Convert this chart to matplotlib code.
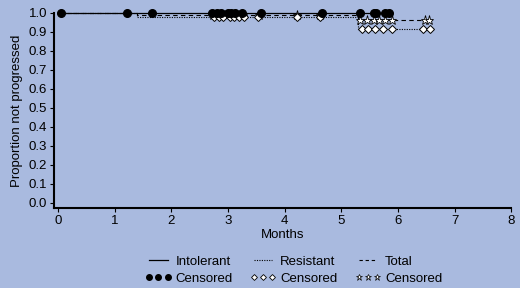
import matplotlib.pyplot as plt
from matplotlib.lines import Line2D

# step curves (time, proportion)
intol_t = [0.0, 5.85]
intol_s = [1.0, 1.0]
resist_t = [0.0, 1.39, 5.3, 6.57]
resist_s = [1.0, 0.98, 0.917, 0.917]
total_t = [0.0, 1.39, 5.3, 6.55]
total_s = [1.0, 0.99, 0.963, 0.963]

# censored observations
intol_cens_t = [0.05, 1.22, 1.66, 2.72, 2.8, 2.88, 3.0, 3.06, 3.13, 3.25, 3.58,
                4.66, 5.34, 5.57, 5.62, 5.78, 5.84]
resist_cens_t = [2.76, 2.84, 2.92, 3.03, 3.11, 3.19, 3.28, 3.53, 4.22, 4.63,
                 5.37, 5.48, 5.6, 5.74, 5.9, 6.45, 6.57]
total_cens_t = [2.74, 2.86, 2.96, 3.06, 3.16, 3.26, 3.55, 4.22, 4.63,
                5.34, 5.45, 5.57, 5.66, 5.78, 5.9, 6.48, 6.55]

x_ticks = list(range(0, 9))
y_ticks = [i / 10 for i in range(0, 11)]

bg = "#a9badf"
plt.rcParams["font.family"] = ["Liberation Sans", "DejaVu Sans"]
fs = 9.5


def surv_at(ts, ss, t):
    val = ss[0]
    for ti, si in zip(ts, ss):
        if t >= ti:
            val = si
    return val


fig = plt.figure(figsize=(5.2, 2.88), dpi=100, facecolor=bg)
ax = fig.add_axes([0.104, 0.278, 0.879, 0.677], facecolor=bg)

ax.step(resist_t, resist_s, where="post", color="black", lw=0.8, ls=(0, (1, 1.2)), clip_on=False)
ax.step(total_t, total_s, where="post", color="black", lw=0.8, ls=(0, (4, 3)), clip_on=False)
ax.step(intol_t, intol_s, where="post", color="black", lw=0.9, clip_on=False)

ax.plot(total_cens_t, [surv_at(total_t, total_s, t) for t in total_cens_t],
        ls="none", marker="*", ms=6.5, mfc="white", mec="black", mew=0.6, clip_on=False)
ax.plot(resist_cens_t, [surv_at(resist_t, resist_s, t) for t in resist_cens_t],
        ls="none", marker="D", ms=4.5, mfc="white", mec="black", mew=0.7, clip_on=False)
ax.plot(intol_cens_t, [surv_at(intol_t, intol_s, t) for t in intol_cens_t],
        ls="none", marker="o", ms=5.5, color="black", clip_on=False)

ax.set_xlim(-0.07, 8)
ax.set_ylim(-0.026, 1.0)
ax.set_xticks(x_ticks)
ax.set_yticks(y_ticks)
ax.set_yticklabels([f"{v:.1f}" for v in y_ticks])
ax.tick_params(labelsize=fs, length=3, width=0.8, pad=2)
ax.spines["top"].set_visible(False)
ax.spines["right"].set_visible(False)
ax.spines["left"].set_linewidth(1.5)
ax.spines["bottom"].set_linewidth(1.5)
ax.set_xlabel("Months", fontsize=fs, labelpad=1.5)
ax.set_ylabel("Proportion not progressed", fontsize=fs, labelpad=4)

handles = [
    Line2D([], [], color="black", lw=0.9),
    Line2D([], [], ls="none", marker="o", ms=4, color="black"),
    Line2D([], [], color="black", lw=0.8, ls=(0, (1, 1.2))),
    Line2D([], [], ls="none", marker="D", ms=3, mfc="white", mec="black", mew=0.6),
    Line2D([], [], color="black", lw=0.8, ls=(0, (3, 2.5))),
    Line2D([], [], ls="none", marker="*", ms=5, mfc="white", mec="black", mew=0.5),
]
labels = ["Intolerant", "Censored", "Resistant", "Censored", "Total", "Censored"]
fig.legend(handles, labels, loc="center", bbox_to_anchor=(0.565, 0.062), ncol=3,
           numpoints=3, frameon=False, fontsize=fs, handlelength=2.0,
           handletextpad=0.3, columnspacing=1.3, labelspacing=0.35)

fig.savefig("out.png", dpi=100, facecolor=bg)
